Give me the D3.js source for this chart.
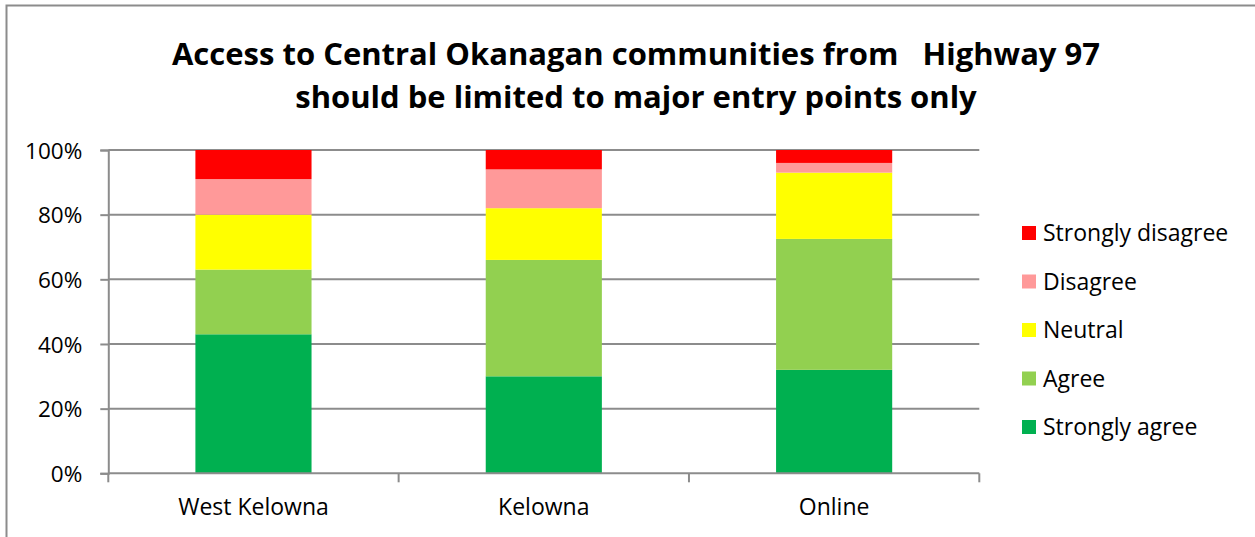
<!DOCTYPE html>
<html>
<head>
<meta charset="utf-8">
<script src="https://cdn.jsdelivr.net/npm/d3@7"></script>
<style>
  html, body { margin: 0; padding: 0; background: #fff; }
  svg { display: block; font-family: "Open Sans", Lato, sans-serif; }
</style>
</head>
<body>
<svg id="chart" width="1255" height="537"></svg>
<script>
// Survey responses (% of respondents) per location
const categories = ["West Kelowna", "Kelowna", "Online"];
const stronglyAgree    = [43, 30, 32];
const agree            = [20, 36, 40.5];
const neutral          = [17, 16, 20.5];
const disagree         = [11, 12, 3];
const stronglyDisagree = [9, 6, 4];
const seriesNames  = ["Strongly agree", "Agree", "Neutral", "Disagree", "Strongly disagree"];
const seriesColors = ["#00b050", "#92d050", "#ffff00", "#ff9999", "#ff0000"];
const yTicks = [0, 20, 40, 60, 80, 100];
const titleLines = [
  "Access to Central Okanagan communities from   Highway 97",
  "should be limited to major entry points only"
];

const seriesValues = [stronglyAgree, agree, neutral, disagree, stronglyDisagree];
const rows = categories.map((c, i) => {
  const r = { category: c };
  seriesNames.forEach((s, k) => { r[s] = seriesValues[k][i]; });
  return r;
});
const stacked = d3.stack().keys(seriesNames)(rows);

const svg = d3.select("#chart");
const gridColor = "#8c8c8c";

// chart frame
svg.append("path")
  .attr("d", "M6.5,537 L6.5,5.5 L1255,5.5")
  .attr("fill", "none").attr("stroke", gridColor).attr("stroke-width", 2);

// title
svg.append("g").selectAll("text").data(titleLines).join("text")
  .attr("x", 636).attr("y", (d, i) => 65 + i * 43.3)
  .attr("text-anchor", "middle")
  .attr("font-size", 31).attr("font-weight", "bold")
  .attr("fill", "#000")
  .style("white-space", "pre")
  .text(d => d);

const plot = { left: 108.3, right: 979.3, top: 150, bottom: 473.3 };

const x = d3.scaleBand().domain(categories)
  .range([plot.left, plot.right]).paddingInner(0.6).paddingOuter(0.3);
const y = d3.scaleLinear().domain([0, 100]).range([plot.bottom, plot.top]);

// horizontal gridlines
svg.append("g").selectAll("line").data(yTicks.filter(t => t > 0)).join("line")
  .attr("x1", plot.left).attr("x2", plot.right)
  .attr("y1", d => y(d)).attr("y2", d => y(d))
  .attr("stroke", gridColor).attr("stroke-width", 2);

// stacked bars
svg.append("g").selectAll("g").data(stacked).join("g")
  .attr("fill", (d, i) => seriesColors[i])
  .selectAll("rect").data(d => d).join("rect")
  .attr("x", d => x(d.data.category))
  .attr("width", x.bandwidth())
  .attr("y", d => y(d[1]))
  .attr("height", d => y(d[0]) - y(d[1]));

// y axis
const yAxis = svg.append("g")
  .attr("transform", `translate(${plot.left},0)`)
  .call(d3.axisLeft(y).tickValues(yTicks).tickFormat(d => d + "%").tickSize(8).tickPadding(18));
yAxis.select(".domain").attr("stroke", gridColor).attr("stroke-width", 2);
yAxis.selectAll(".tick line").attr("stroke", gridColor).attr("stroke-width", 2);
yAxis.selectAll(".tick text").attr("font-size", 22.5).attr("fill", "#000")
  .attr("font-family", "'Open Sans', sans-serif").attr("dy", "0.36em");

// x axis with ticks between categories
const xAxisG = svg.append("g").attr("transform", `translate(0,${plot.bottom})`);
xAxisG.append("line").attr("x1", plot.left).attr("x2", plot.right)
  .attr("stroke", gridColor).attr("stroke-width", 2);
const boundaries = d3.range(categories.length + 1).map(i => plot.left + i * (plot.right - plot.left) / categories.length);
xAxisG.selectAll("line.tk").data(boundaries).join("line").attr("class", "tk")
  .attr("x1", d => d).attr("x2", d => d).attr("y1", 0).attr("y2", 9)
  .attr("stroke", gridColor).attr("stroke-width", 2);
xAxisG.selectAll("text").data(categories).join("text")
  .attr("x", d => x(d) + x.bandwidth() / 2)
  .attr("y", 41.7)
  .attr("text-anchor", "middle")
  .attr("font-size", 23).attr("fill", "#000")
  .text(d => d);

// legend (top to bottom: Strongly disagree ... Strongly agree)
const legendItems = seriesNames.map((n, i) => ({ name: n, color: seriesColors[i] })).reverse();
const legend = svg.append("g").selectAll("g").data(legendItems).join("g")
  .attr("transform", (d, i) => `translate(1022,${233 + i * 48.5})`);
legend.append("rect").attr("x", 0).attr("y", -7).attr("width", 14).attr("height", 14)
  .attr("fill", d => d.color);
legend.append("text").attr("x", 21).attr("y", 0).attr("dy", "0.36em")
  .attr("font-size", 23).attr("fill", "#000")
  .text(d => d.name);
</script>
</body>
</html>
